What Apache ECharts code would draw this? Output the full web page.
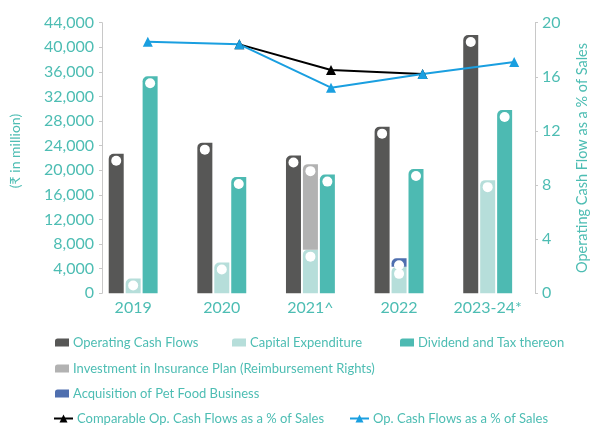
<!DOCTYPE html>
<html><head><meta charset="utf-8">
<script src="https://cdn.jsdelivr.net/npm/echarts@6/dist/echarts.min.js"></script>
<style>html,body{margin:0;padding:0;background:#fff}#c{width:598px;height:425px}</style>
</head><body><div id="c"></div>
<script>
const categories = ['2019', '2020', '2021^', '2022', '2023-24*'];
const operatingCashFlows = [22700, 24500, 22400, 27100, 42000];
const capitalExpenditure = [2400, 5000, 7100, 4300, 18400];
const insurancePlan = [null, null, 13900, null, null];
const petFoodAcquisition = [null, null, null, 1400, null];
const dividendAndTax = [35300, 18900, 19300, 20200, 29800];
const comparablePct = [null, 18.4, 16.5, 16.2, null];
const opCashPct = [18.6, 18.4, 15.2, 16.2, 17.1];

const TEAL_TEXT = '#4dbdb3';
const FONT = 'Lato';
const C = {
  op: '#575756', capex: '#b6deda', div: '#4dbab2', ins: '#b2b2b2', pet: '#4f6faf',
  black: '#000000', blue: '#1a9fe0'
};
const barIcon = 'path://M3,0 L16,0 L16,9 L0,9 L0,3 Q0,0 3,0 Z';
const circleLabel = {
  show: true, position: 'insideTop', distance: 2, formatter: ' ',
  width: 10, height: 10, backgroundColor: '#ffffff', borderRadius: 5, padding: 0
};
function barSeries(name, data, color, stack) {
  return {
    name, type: 'bar', data, stack, xAxisIndex: 0, yAxisIndex: 0,
    barWidth: 15, barGap: '13%',
    itemStyle: { color, borderRadius: [5, 0, 0, 0] },
    label: circleLabel
  };
}
function lg(name, left, top, icon, w, h) {
  return {
    data: [{ name, icon }], left, top, itemWidth: w, itemHeight: h, itemGap: 0,
    textStyle: { color: TEAL_TEXT, fontSize: 13, fontFamily: FONT, padding: [0, 0, 0, -1] },
    selectedMode: false
  };
}
const axisLineStyle = { show: true, lineStyle: { color: '#c8c8c8', width: 1 } };
const option = {
  animation: false,
  textStyle: { fontFamily: FONT },
  grid: [
    { left: 88.85, width: 461.5, top: 22.7, height: 270.6 },
    { left: 98.5, width: 461.5, top: 22.7, height: 270.6 }
  ],
  xAxis: [
    { type: 'category', gridIndex: 0, data: categories,
      axisLine: { show: false }, axisTick: { show: false },
      axisLabel: { color: TEAL_TEXT, fontSize: 16, fontFamily: FONT, margin: 7, interval: 0 } },
    { type: 'category', gridIndex: 1, data: categories, show: false }
  ],
  yAxis: [
    { type: 'value', gridIndex: 0, min: 0, max: 44000, interval: 4000, show: false },
    { type: 'value', gridIndex: 0, position: 'right', offset: 3, min: 0, max: 20, interval: 4,
      axisLine: axisLineStyle, axisTick: { show: true, length: 3, lineStyle: { color: '#c8c8c8' } },
      splitLine: { show: false },
      axisLabel: { color: TEAL_TEXT, fontSize: 16, fontFamily: FONT, margin: 7 },
      name: 'Operating Cash Flow as a % of Sales', nameLocation: 'middle', nameRotate: 90, nameGap: 40,
      nameTextStyle: { color: TEAL_TEXT, fontSize: 14.5, fontFamily: FONT, padding: [0, 0, 14, 0] } },
    { type: 'value', gridIndex: 1, position: 'left', min: 0, max: 44000, interval: 4000,
      axisLine: axisLineStyle, axisTick: { show: true, length: 3, lineStyle: { color: '#c8c8c8' } },
      splitLine: { show: false },
      axisLabel: { color: TEAL_TEXT, fontSize: 16, fontFamily: FONT, margin: 8,
        formatter: v => v.toLocaleString('en-US') },
      name: '(₹ in million)', nameLocation: 'middle', nameRotate: 90, nameGap: 80,
      nameTextStyle: { color: TEAL_TEXT, fontSize: 14, fontFamily: FONT, padding: [0, 0, 0, 14] } },
    { type: 'value', gridIndex: 1, position: 'right', min: 0, max: 20, interval: 4, show: false }
  ],
  legend: [
    lg('Operating Cash Flows', 50, 331, barIcon, 14, 8),
    lg('Capital Expenditure', 227, 331, barIcon, 14, 8),
    lg('Dividend and Tax thereon', 395, 331, barIcon, 14, 8),
    lg('Investment in Insurance Plan (Reimbursement Rights)', 50, 357, barIcon, 14, 8),
    lg('Acquisition of Pet Food Business', 50, 382, barIcon, 14, 8),
    lg('Comparable Op. Cash Flows as a % of Sales', 48, 407, undefined, 19, 10),
    lg('Op. Cash Flows as a % of Sales', 344, 407, undefined, 19, 10)
  ],
  series: [
    barSeries('Operating Cash Flows', operatingCashFlows, C.op, 'a'),
    barSeries('Capital Expenditure', capitalExpenditure, C.capex, 'b'),
    barSeries('Investment in Insurance Plan (Reimbursement Rights)', insurancePlan, C.ins, 'b'),
    barSeries('Acquisition of Pet Food Business', petFoodAcquisition, C.pet, 'b'),
    barSeries('Dividend and Tax thereon', dividendAndTax, C.div, 'c'),
    { name: 'Comparable Op. Cash Flows as a % of Sales', type: 'line', data: comparablePct,
      xAxisIndex: 1, yAxisIndex: 3, symbol: 'triangle', symbolSize: 10,
      lineStyle: { color: C.black, width: 2 }, itemStyle: { color: C.black } },
    { name: 'Op. Cash Flows as a % of Sales', type: 'line', data: opCashPct,
      xAxisIndex: 1, yAxisIndex: 3, symbol: 'triangle', symbolSize: 10,
      lineStyle: { color: C.blue, width: 2 }, itemStyle: { color: C.blue } }
  ]
};
const chart = echarts.init(document.getElementById('c'), null, { renderer: 'canvas' });
chart.setOption(option);
</script></body></html>
